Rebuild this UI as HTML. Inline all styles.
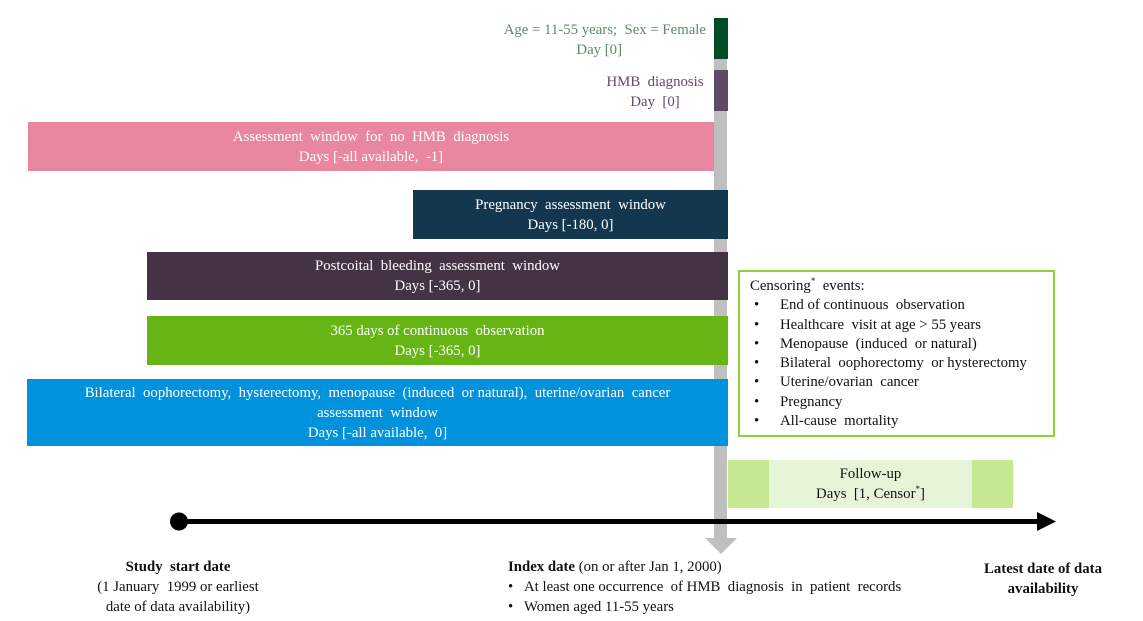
<!DOCTYPE html>
<html><head><meta charset="utf-8"><style>
body{margin:0;width:1143px;height:621px;background:#fff;position:relative;overflow:hidden;font-family:"Liberation Serif",serif;font-size:14.8px;}
.a{position:absolute;box-sizing:border-box;}
.bar{display:flex;flex-direction:column;justify-content:center;align-items:center;text-align:center;color:#fff;line-height:20px;white-space:nowrap;}
.t{position:absolute;text-align:center;line-height:20px;color:#111;white-space:nowrap;}
ul{margin:0;padding:0;list-style:none;}
li{position:relative;padding-left:30px;line-height:19.3px;}
li:before{content:"•";position:absolute;left:4px;}
</style></head><body>
<div class="a" style="left:714px;top:18px;width:13px;height:522px;background:#bfbfbf"></div>
<svg class="a" style="left:0;top:0" width="1143" height="621">
<polygon points="705,538 737,538 721,554" fill="#bfbfbf"/>
<line x1="179" y1="521.5" x2="1040" y2="521.5" stroke="#000" stroke-width="5"/>
<polygon points="1037,512 1056,521.5 1037,531" fill="#000"/>
<circle cx="179" cy="521.5" r="9" fill="#000"/>
</svg>
<div class="a" style="left:714px;top:18px;width:14px;height:41px;background:#024b25"></div>
<div class="t" style="left:476px;top:20px;width:230px;text-align:right;color:#5a8a6a">Age = 11-55 years;&nbsp; Sex = Female<br><span style="margin-right:84px">Day [0]</span></div>
<div class="a" style="left:714px;top:70px;width:14px;height:41px;background:#5f4a66"></div>
<div class="t" style="left:590px;top:72px;width:130px;color:#5f4a66">HMB&nbsp; diagnosis<br>Day&nbsp; [0]</div>
<div class="a bar" style="left:28px;top:122px;width:686px;height:49px;background:#e8879f">Assessment&nbsp; window&nbsp; for&nbsp; no&nbsp; HMB&nbsp; diagnosis<br>Days [-all available,&nbsp; -1]</div>
<div class="a bar" style="left:413px;top:190px;width:315px;height:49px;background:#12374e">Pregnancy&nbsp; assessment&nbsp; window<br>Days [-180, 0]</div>
<div class="a bar" style="left:147px;top:252px;width:581px;height:48px;background:#433344">Postcoital&nbsp; bleeding&nbsp; assessment&nbsp; window<br>Days [-365, 0]</div>
<div class="a bar" style="left:147px;top:316px;width:581px;height:49px;background:#66b515">365 days of continuous&nbsp; observation<br>Days [-365, 0]</div>
<div class="a bar" style="left:27px;top:379px;width:701px;height:67px;background:#0092dc">Bilateral&nbsp; oophorectomy,&nbsp; hysterectomy,&nbsp; menopause&nbsp; (induced&nbsp; or natural),&nbsp; uterine/ovarian&nbsp; cancer<br>assessment&nbsp; window<br>Days [-all available,&nbsp; 0]</div>
<div class="a" style="left:738px;top:270px;width:317px;height:167px;border:2px solid #8cd337;padding:5px 0 0 10px;color:#111;white-space:nowrap">
<div style="line-height:19.3px">Censoring<sup style="font-size:9px;line-height:0">*</sup>&nbsp; events:</div>
<ul>
<li>End of continuous&nbsp; observation</li>
<li>Healthcare&nbsp; visit at age &gt; 55 years</li>
<li>Menopause&nbsp; (induced&nbsp; or natural)</li>
<li>Bilateral&nbsp; oophorectomy&nbsp; or hysterectomy</li>
<li>Uterine/ovarian&nbsp; cancer</li>
<li>Pregnancy</li>
<li>All-cause&nbsp; mortality</li>
</ul></div>
<div class="a" style="left:728px;top:460px;width:285px;height:48px;background:#c5e890"></div>
<div class="a bar" style="left:769px;top:460px;width:203px;height:48px;background:#e6f4d8;color:#111">Follow-up<br><span>Days&nbsp; [1, Censor<sup style="font-size:9px;line-height:0">*</sup>]</span></div>
<div class="t" style="left:68px;top:557px;width:220px"><b>Study&nbsp; start date</b><br>(1 January&nbsp; 1999 or earliest<br>date of data availability)</div>
<div class="t" style="left:508px;top:557px;width:440px;text-align:left"><b>Index date</b> (on or after Jan 1, 2000)<ul><li style="padding-left:16px;line-height:20px">At least one occurrence&nbsp; of HMB&nbsp; diagnosis&nbsp; in&nbsp; patient&nbsp; records</li><li style="padding-left:16px;line-height:20px">Women aged 11-55 years</li></ul></div>
<style>.t li:before{left:0}</style>
<div class="t" style="left:968px;top:559px;width:150px;font-weight:bold">Latest date of data<br>availability</div>
</body></html>
